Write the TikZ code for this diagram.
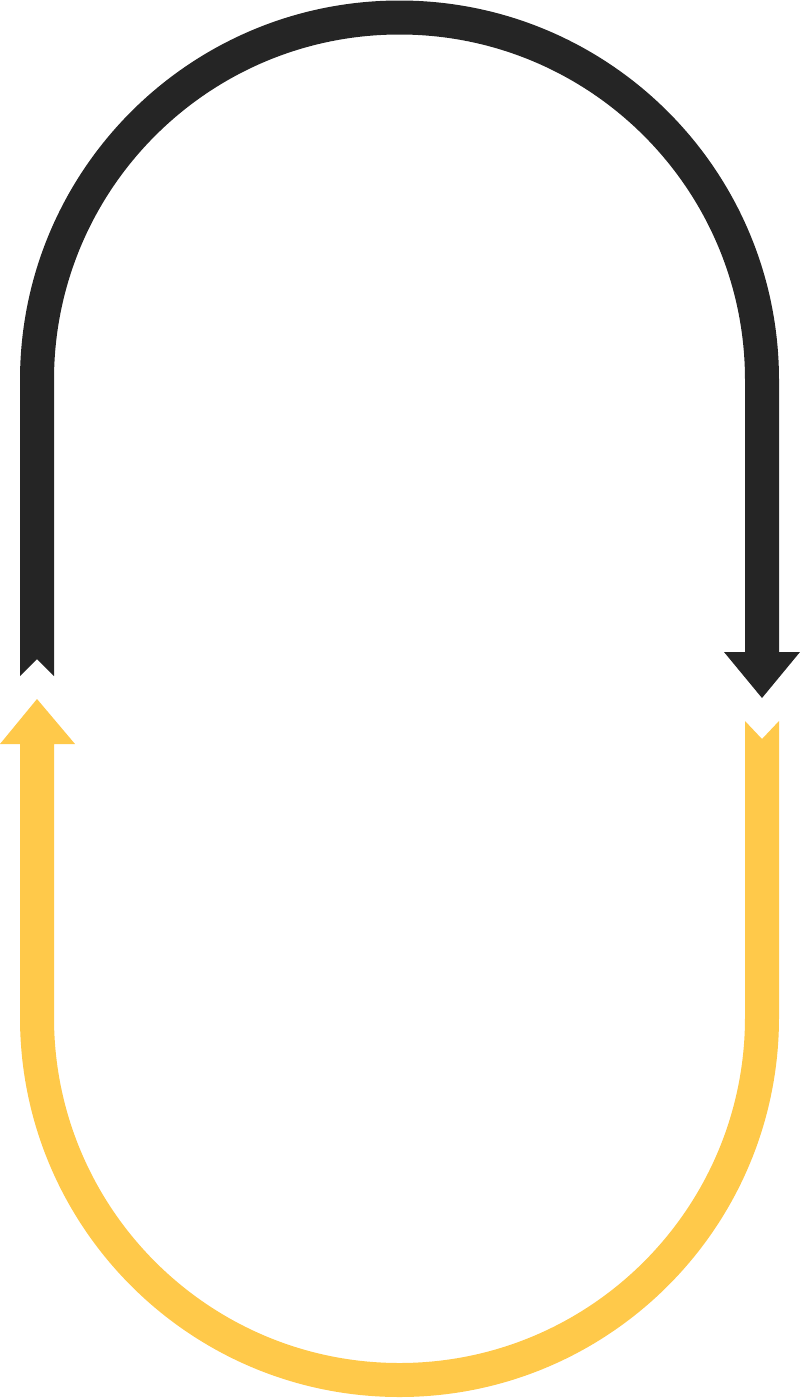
\documentclass[tikz,border=0pt]{standalone}
\begin{document}
\begin{tikzpicture}[x=1pt,y=-1pt]
\definecolor{darkarrow}{HTML}{252525}
\definecolor{yellowarrow}{HTML}{FFC94A}
\tikzset{arrowshape/.style={draw=none}}
\useasboundingbox (0,0) rectangle (800,1398);
% black arrow (top)
\fill[darkarrow,arrowshape]
  (20,676) -- (20,380) arc[start angle=180,end angle=360,radius=379.5]
  -- (779,652) -- (800,652) -- (762,698) -- (724,652) -- (745,652)
  -- (745,380) arc[start angle=0,end angle=-180,radius=345.5]
  -- (54,676) -- (37,659) -- cycle;
% yellow arrow (bottom)
\fill[yellowarrow,arrowshape]
  (37,699) -- (75,744) -- (54,744)
  -- (54,1017.5) arc[start angle=180,end angle=0,radius=345.5]
  -- (745,721) -- (762,739) -- (779,721)
  -- (779,1017.5) arc[start angle=0,end angle=180,radius=379.5]
  -- (20,744) -- (0,744) -- cycle;
\end{tikzpicture}
\end{document}
